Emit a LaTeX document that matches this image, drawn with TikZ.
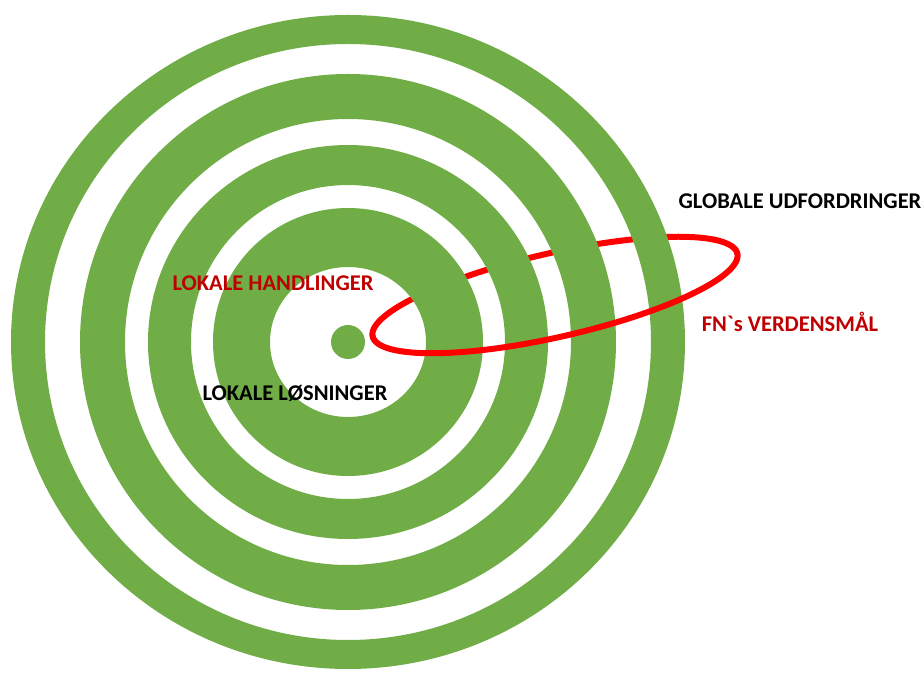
\documentclass[tikz,border=0pt]{standalone}
\usepackage{fontspec}
\usepackage{tikz}
\usetikzlibrary{positioning, calc}
\newfontfamily\lblfont{Carlito}
\definecolor{rgreen}{HTML}{70AD47}
\definecolor{rred}{HTML}{FF0000}
\definecolor{tred}{HTML}{C00000}
\tikzset{
  ring/.style={fill=rgreen, even odd rule},
  orbit/.style={draw=rred, line width=0.12cm, line cap=round},
  blabel/.style={anchor=base, inner sep=0pt, text=black,
                 font=\lblfont\bfseries\fontsize{12.8}{14}\selectfont},
  rlabel/.style={blabel, text=tred},
}

\begin{document}
\begin{tikzpicture}[x=0.02cm, y=-0.02cm]
    \useasboundingbox (0,0) rectangle (924,675);
    \coordinate (c) at (348,342);
    % back half of the orbit, under the rings
    \begin{scope}[shift={(555,295)}, rotate=12.8]
      \draw[orbit] plot[domain=180:360, samples=90, smooth, variable=\t]
        ({187*cos(\t)}, {42*sin(\t)});
    \end{scope}
    % rings
    \foreach \ox/\oy/\ix/\iy in {337/327/303/298, 268/268/223/223,
                                 200/197/157/157, 135/134/78/75}
      \fill[ring] (c) ellipse[x radius=\ox, y radius=\oy]
                  (c) ellipse[x radius=\ix, y radius=\iy];
    \fill[rgreen] (c) circle[radius=17];
    % front half of the orbit
    \begin{scope}[shift={(555,295)}, rotate=12.8]
      \draw[orbit] plot[domain=0:180, samples=90, smooth, variable=\t]
        ({187*cos(\t)}, {42*sin(\t)});
    \end{scope}

    \node[blabel] (global) at (800,209) {GLOBALE UDFORDRINGER};
    \node[rlabel] (fn) at (790,332) {FN`s VERDENSMÅL};
    \node[rlabel] (handling) at (273,291) {LOKALE HANDLINGER};
    \node[blabel] (loesning) at (295,401) {LOKALE LØSNINGER};
\end{tikzpicture}
\end{document}
